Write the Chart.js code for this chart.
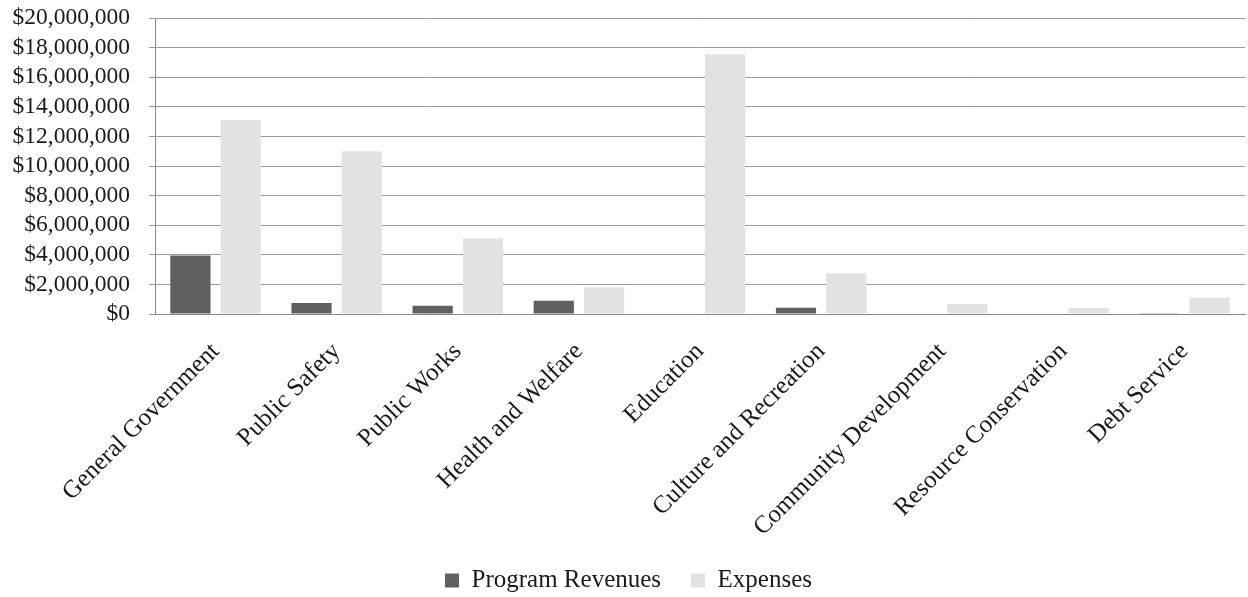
<!DOCTYPE html>
<html>
<head>
<meta charset="utf-8">
<title>Program Revenues and Expenses by Function</title>
<script src="https://cdn.jsdelivr.net/npm/chart.js@4.4.1/dist/chart.umd.min.js"></script>
<style>
    html, body { margin: 0; padding: 0; background: #fff; }
    #wrap { position: relative; width: 1248px; height: 597px; }
</style>
</head>
<body>
<div id="wrap"><canvas id="fonctionsChart"></canvas></div>
<script>
// Functions of government (x axis)
const categories = [
    'General Government', 'Public Safety', 'Public Works', 'Health and Welfare',
    'Education', 'Culture and Recreation', 'Community Development',
    'Resource Conservation', 'Debt Service'
];

// Program revenues by function, in dollars
const programRevenues = [3950000, 750000, 550000, 900000, 0, 420000, 30000, 0, 50000];

// Expenses by function, in dollars
const expenses = [13100000, 11000000, 5100000, 1800000, 17550000, 2750000, 680000, 410000, 1120000];

// Y axis range
const yMin = 0;
const yMax = 20000000;
const yStep = 2000000;

const FONT = "'Liberation Serif', 'Times New Roman', serif";

/**
 * Formats a value as whole dollars: $12,000,000
 */
function dollars(value) {
    return '$' + Number(value).toLocaleString('en-US');
}

document.addEventListener('DOMContentLoaded', function() {
    if (typeof Chart === 'undefined') {
        console.error('Chart.js is not loaded.');
        return;
    }

    new Chart(document.getElementById('fonctionsChart'), {
        type: 'bar',
        data: {
            labels: categories,
            datasets: [
                {
                    label: 'Program Revenues',
                    data: programRevenues,
                    backgroundColor: '#606060',
                    borderWidth: 0
                },
                {
                    label: 'Expenses',
                    data: expenses,
                    backgroundColor: '#e1e2e1',
                    borderWidth: 0
                }
            ]
        },
        options: {
            responsive: true,
            maintainAspectRatio: false,
            animation: false,
            categoryPercentage: 0.83,
            barPercentage: 0.8,
            layout: {
                // small negative bottom so the legend row sits lower
                padding: { left: 12, right: 3, top: 18, bottom: -6 }
            },
            plugins: {
                legend: {
                    position: 'bottom',
                    labels: {
                        color: '#1a1a1a',
                        font: { family: FONT, size: 25 },
                        boxWidth: 14,
                        boxHeight: 14,
                        padding: 30
                    }
                },
                tooltip: {
                    callbacks: {
                        label: function(context) {
                            return context.dataset.label + ': ' + dollars(context.raw);
                        }
                    }
                }
            },
            scales: {
                x: {
                    grid: { display: false },
                    border: { display: true, color: '#8a8a8a', width: 1 },
                    ticks: {
                        color: '#1a1a1a',
                        font: { family: FONT, size: 25 },
                        minRotation: 45,
                        maxRotation: 45,
                        autoSkip: false,
                        padding: 15
                    },
                    afterFit: function(scale) {
                        scale.height = 224;
                    }
                },
                y: {
                    min: yMin,
                    max: yMax,
                    grid: {
                        color: '#9c9c9c',
                        lineWidth: 1,
                        tickLength: 6
                    },
                    border: { display: true, color: '#8a8a8a', width: 1 },
                    ticks: {
                        stepSize: yStep,
                        autoSkip: false,
                        color: '#1a1a1a',
                        font: { family: FONT, size: 23.5 },
                        padding: 19,
                        callback: function(value) {
                            return dollars(value);
                        }
                    },
                    afterFit: function(scale) {
                        scale.width = 143;
                        // ticks.padding would otherwise also be added above the top label
                        scale.paddingTop = 0;
                        scale.paddingBottom = 0;
                    }
                }
            }
        }
    });
});
</script>
</body>
</html>
